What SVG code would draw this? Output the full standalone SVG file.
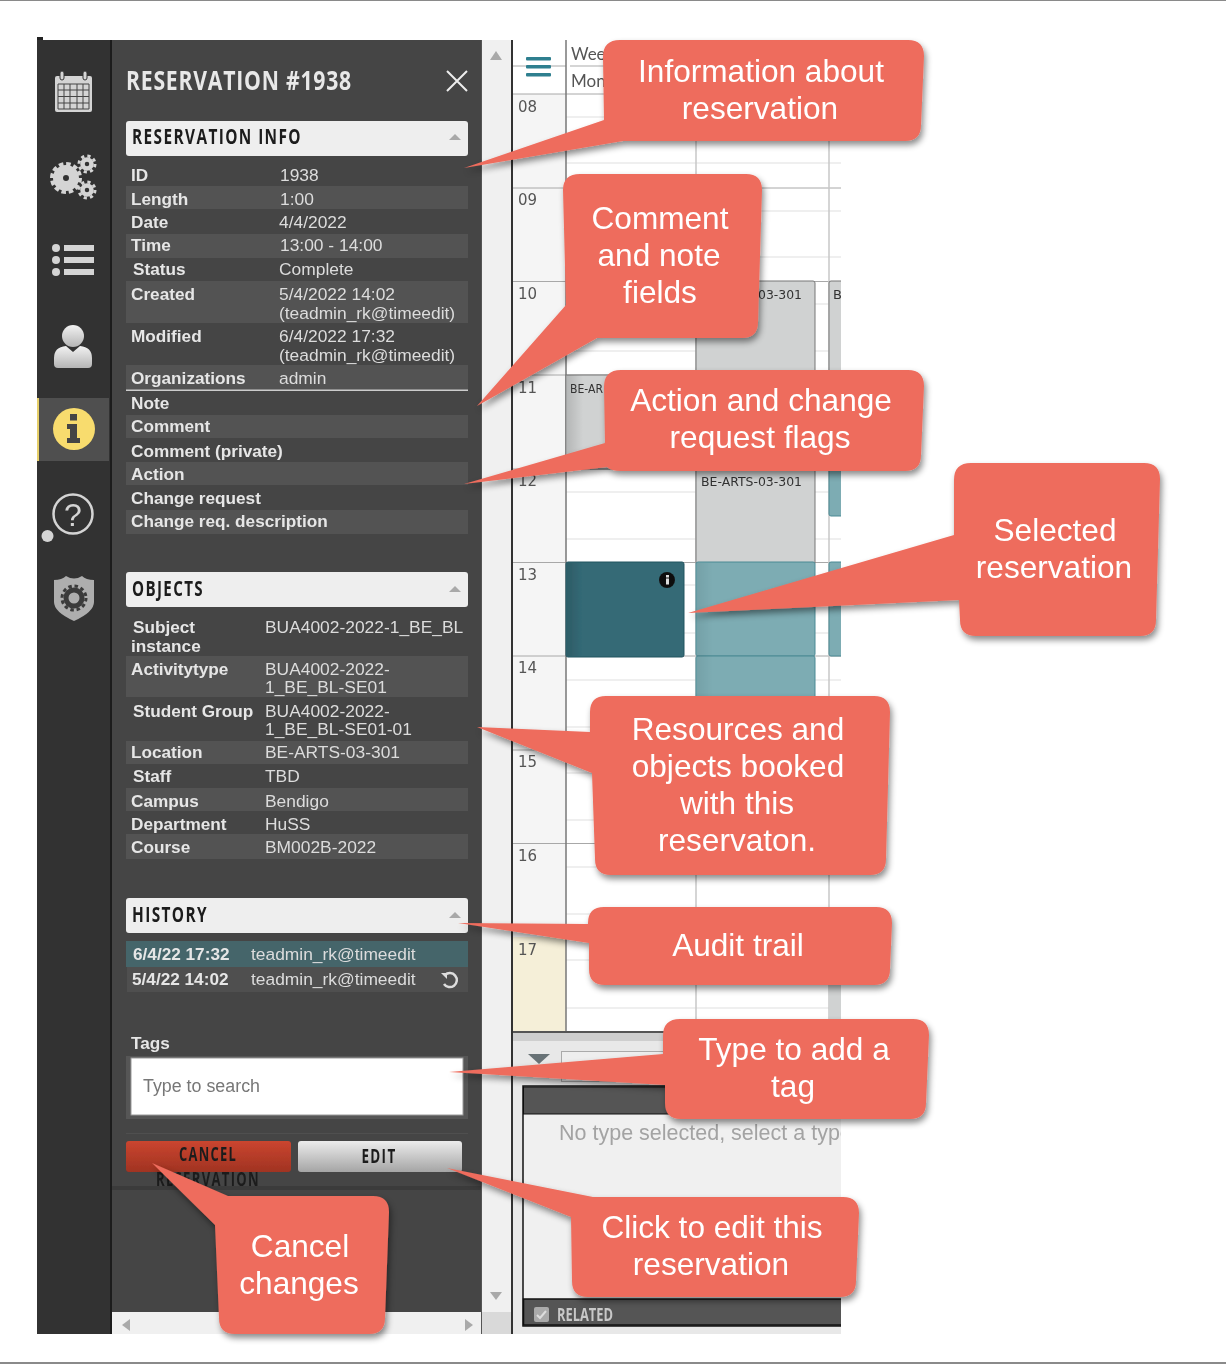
<svg xmlns="http://www.w3.org/2000/svg" width="1226" height="1364" viewBox="0 0 1226 1364">
<style>
.l{font:bold 17.200px "Liberation Sans",Arial,sans-serif;fill:#e6e6e6;transform:translate(0,1px)}
.v{font:17.400px "Liberation Sans",Arial,sans-serif;fill:#dcdcdc;transform:translate(0,1px)}
.h{font:bold 22px "Open Sans",sans-serif;fill:#1c1c1c;letter-spacing:2px}
.c{font:31.600px "Liberation Sans",Arial,sans-serif;fill:#fff;text-anchor:middle;transform:translate(0,.3px)}
.co{fill:#ee6c5d;filter:url(#sh)}
.b{fill:#535353}
.hr{stroke:#a8a8a8;stroke-width:1}
.qt{stroke:#efefef;stroke-width:2}
.ic{fill:#d4d4d4}
.ar{fill:#a9a9a9}
.ev{font:13px 'DejaVu Sans',sans-serif;fill:#333}
.btn{font:bold 20px "Open Sans",sans-serif;fill:#1d1d1d;text-anchor:middle;letter-spacing:2px}
</style>
<defs>
<filter id="sh" x="-10%" y="-10%" width="125%" height="130%"><feDropShadow dx="2" dy="4" stdDeviation="3" flood-color="#000" flood-opacity="0.45"/></filter>
<filter id="soft"><feGaussianBlur stdDeviation="0.35"/></filter>
<linearGradient id="gbtn" x1="0" y1="0" x2="0" y2="1"><stop offset="0" stop-color="#ececec"/><stop offset="1" stop-color="#a5a5a5"/></linearGradient>
<linearGradient id="rbtn" x1="0" y1="0" x2="0" y2="1"><stop offset="0" stop-color="#cb452f"/><stop offset="1" stop-color="#a03322"/></linearGradient>
<linearGradient id="pers" x1="0" y1="0" x2="0" y2="1"><stop offset="0" stop-color="#f2f2f2"/><stop offset="1" stop-color="#b5b5b5"/></linearGradient>
<linearGradient id="edge"><stop offset="0" stop-color="#000" stop-opacity="0.13"/><stop offset="1" stop-color="#000" stop-opacity="0"/></linearGradient>
<clipPath id="cal"><rect x="512" y="40" width="329" height="1294"/></clipPath>
</defs>
<rect width="1226" height="1364" fill="#fff"/>
<rect x="0" y="0" width="1226" height="1" fill="#8a8a8a"/>
<rect x="0" y="1362" width="1226" height="2" fill="#8a8a8a"/>
<g filter="url(#soft)">
<g id="calendar" clip-path="url(#cal)">
<rect x="512" y="40" width="329" height="1294" fill="#fff"/>
<rect x="512" y="94" width="54" height="938" fill="#f5f5f5"/>
<rect x="512" y="937" width="54" height="95" fill="#f5efd8"/>
<g class="qt">
<path d="M566 117H841M566 163H841M566 211H841M566 257H841M566 304H841M566 351H841M566 398H841M566 445H841M566 492H841M566 539H841M566 585H841M566 633H841M566 680H841M566 727H841M566 773H841M566 820H841M566 867H841M566 914H841M566 960H841M566 1008H841"/>
</g>
<path class="hr" d="M512 94H841M512 188H841M512 281.500H841M512 375H841M512 469H841M512 562.500H841M512 656H841M512 750H841M512 843.500H841M512 66H566" fill="none"/>
<path d="M570 66H841M696 94V1032M829 94V1032" stroke="#c8c8c8" stroke-width="1.500" fill="none"/>
<path d="M566 40V1032" stroke="#777" stroke-width="1.500"/>
<rect x="566" y="375" width="118" height="94" fill="#d0d2d2" stroke="#777"/>
<rect x="696" y="281" width="119" height="188" rx="2" fill="#d0d2d2" stroke="#777"/>
<rect x="696" y="469" width="119" height="94" fill="#d0d2d2" stroke="#777"/>
<rect x="829" y="281" width="20" height="188" rx="2" fill="#d0d2d2" stroke="#777"/>
<rect x="829" y="469" width="20" height="47" rx="2" fill="#7dacb3" stroke="#4d8a94"/>
<rect x="829" y="562" width="20" height="94" rx="2" fill="#7dacb3" stroke="#4d8a94"/>
<rect x="829" y="940" width="12" height="92" fill="#d0d2d2"/>
<rect x="566" y="562" width="118" height="95" rx="2" fill="#346a76" stroke="#235560"/>
<rect x="696" y="562" width="119" height="94" rx="2" fill="#7dacb3" stroke="#4d8a94"/>
<rect x="696" y="656" width="119" height="60" rx="2" fill="#7dacb3" stroke="#4d8a94"/>
<rect x="567" y="375" width="16" height="94" fill="url(#edge)"/><rect x="567" y="563" width="16" height="93" fill="url(#edge)"/><rect x="697" y="563" width="16" height="150" fill="url(#edge)" opacity="0.5"/>
<circle cx="667" cy="580" r="8" fill="#111"/>
<rect x="666" y="578.500" width="3" height="6" fill="#ddd"/><rect x="666" y="575" width="3" height="2.500" fill="#ddd"/>
<text class="ev" x="758" y="299" textLength="44" lengthAdjust="spacingAndGlyphs">03-301</text>
<text class="ev" x="701" y="486" textLength="101" lengthAdjust="spacingAndGlyphs">BE-ARTS-03-301</text>
<text class="ev" x="570" y="393" textLength="33" lengthAdjust="spacingAndGlyphs">BE-AR</text>
<text class="ev" x="833" y="299">B</text>
<text x="571" y="60" style="font:17px Lato,sans-serif;fill:#555">Wee</text>
<text x="571" y="87" style="font:17px Lato,sans-serif;fill:#555">Mon</text>
<g style="font:15px 'DejaVu Sans',sans-serif;fill:#555">
<text x="518" y="112">08</text><text x="518" y="205">09</text><text x="518" y="299">10</text><text x="518" y="393">11</text><text x="518" y="486">12</text><text x="518" y="580">13</text><text x="518" y="673">14</text><text x="518" y="767">15</text><text x="518" y="861">16</text><text x="518" y="955">17</text>
</g>
<g fill="#2f7f8f"><rect x="526" y="57" width="25" height="3.500" rx="1"/><rect x="526" y="65" width="25" height="3.500" rx="1"/><rect x="526" y="73" width="25" height="3.500" rx="1"/></g>
<rect x="512" y="1033" width="329" height="301" fill="#e8e8e8"/>
<rect x="512" y="1031" width="329" height="2" fill="#555"/>
<rect x="512" y="1033" width="329" height="8" fill="#bdbdbd" opacity="0.6"/>
<path d="M528 1054H550L539 1064Z" fill="#687276"/>
<rect x="561.500" y="1051.500" width="300" height="30" fill="#eee" stroke="#aaa"/>
<rect x="523" y="1086" width="330" height="240" fill="#f0f0f0" stroke="#111" stroke-width="1.500"/>
<rect x="523.500" y="1087" width="330" height="27" fill="#555" stroke="#111"/>
<rect x="523.500" y="1299" width="330" height="26" fill="#555" stroke="#111" stroke-width="1.500"/>
<text x="559" y="1140" style="font:21.500px 'Liberation Sans',sans-serif;fill:#a3a3a3">No type selected, select a type</text>
<rect x="534" y="1307" width="15" height="15" rx="2" fill="#aaa"/><path d="M537 1315l3 3 6-7" stroke="#ddd" stroke-width="2" fill="none"/>
<text x="557" y="1321" style="font:bold 18px 'Open Sans',sans-serif;fill:#c8c8c8" textLength="56" lengthAdjust="spacingAndGlyphs">RELATED</text>
</g>
<rect x="511" y="40" width="2" height="1294" fill="#333"/>
<g id="panel">
<rect x="37" y="40" width="73" height="1294" fill="#333"/>
<rect x="110" y="40" width="2" height="1294" fill="#1a1a1a"/>
<rect x="112" y="40" width="369" height="1294" fill="#454545"/>
<rect x="482" y="40" width="29" height="1294" fill="#f0f0f0"/>
<rect x="481" y="40" width="1" height="1294" fill="#555"/>
<rect x="112" y="1312" width="369" height="22" fill="#f0f0f0"/>
<rect x="482" y="1312" width="29" height="22" fill="#d9d9d9"/>
<path class="ar" d="M490 60L496 51L502 60Z"/><path class="ar" d="M490 1292H502L496 1300Z"/><path class="ar" d="M130 1319V1331L122 1325Z"/><path class="ar" d="M465 1319V1331L473 1325Z"/>
<rect x="112" y="1186" width="369" height="4" fill="#3a3a3a"/>
<text x="126" y="90" style="font:bold 27px 'Open Sans',sans-serif;fill:#e8e8e8;letter-spacing:1px" textLength="226" lengthAdjust="spacingAndGlyphs">RESERVATION #1938</text>
<path d="M447 71L467 91M467 71L447 91" stroke="#eee" stroke-width="2"/>
<g id="info-section">
<rect x="126" y="121" width="342" height="35" rx="3" fill="#eee"/>
<text class="h" x="132" y="144" textLength="170" lengthAdjust="spacingAndGlyphs">RESERVATION INFO</text>
<path class="ar" d="M449 140H461L455 134Z"/>
<rect class="b" x="126" y="186" width="342" height="23"/><rect class="b" x="126" y="234" width="342" height="24"/><rect class="b" x="126" y="281" width="342" height="42"/><rect class="b" x="126" y="365" width="342" height="25"/><rect x="126" y="389.500" width="342" height="1.500" fill="#ccc"/><rect class="b" x="126" y="415" width="342" height="23"/><rect class="b" x="126" y="462" width="342" height="23"/><rect class="b" x="126" y="510" width="342" height="24"/>
<text class="l" x="131" y="180">ID</text><text class="v" x="280" y="180">1938</text>
<text class="l" x="131" y="204">Length</text><text class="v" x="280" y="204">1:00</text>
<text class="l" x="131" y="227">Date</text><text class="v" x="279" y="227">4/4/2022</text>
<text class="l" x="131" y="250">Time</text><text class="v" x="280" y="250">13:00 - 14:00</text>
<text class="l" x="133" y="274">Status</text><text class="v" x="279" y="274">Complete</text>
<text class="l" x="131" y="299">Created</text><text class="v" x="279" y="299">5/4/2022 14:02</text><text class="v" x="279" y="318">(teadmin_rk@timeedit)</text>
<text class="l" x="131" y="341">Modified</text><text class="v" x="279" y="341">6/4/2022 17:32</text><text class="v" x="279" y="360">(teadmin_rk@timeedit)</text>
<text class="l" x="131" y="383">Organizations</text><text class="v" x="279" y="383">admin</text>
<text class="l" x="131" y="408">Note</text><text class="l" x="131" y="431">Comment</text><text class="l" x="131" y="456">Comment (private)</text><text class="l" x="131" y="479">Action</text><text class="l" x="131" y="503">Change request</text><text class="l" x="131" y="526">Change req. description</text>
</g>
<g id="objects-section">
<rect x="126" y="572" width="342" height="35" rx="3" fill="#eee"/>
<text class="h" x="132" y="596" textLength="72" lengthAdjust="spacingAndGlyphs">OBJECTS</text>
<path class="ar" d="M449 592H461L455 586Z"/>
<rect class="b" x="126" y="656" width="342" height="41"/><rect class="b" x="126" y="741" width="342" height="23"/><rect class="b" x="126" y="788" width="342" height="23"/><rect class="b" x="126" y="834" width="342" height="25"/>
<text class="l" x="133" y="632">Subject</text><text class="l" x="131" y="651">instance</text><text class="v" x="265" y="632">BUA4002-2022-1_BE_BL</text>
<text class="l" x="131" y="674">Activitytype</text><text class="v" x="265" y="674">BUA4002-2022-</text><text class="v" x="265" y="692">1_BE_BL-SE01</text>
<text class="l" x="133" y="716">Student Group</text><text class="v" x="265" y="716">BUA4002-2022-</text><text class="v" x="265" y="734">1_BE_BL-SE01-01</text>
<text class="l" x="131" y="757">Location</text><text class="v" x="265" y="757">BE-ARTS-03-301</text>
<text class="l" x="133" y="781">Staff</text><text class="v" x="265" y="781">TBD</text>
<text class="l" x="131" y="806">Campus</text><text class="v" x="265" y="806">Bendigo</text>
<text class="l" x="131" y="829">Department</text><text class="v" x="265" y="829">HuSS</text>
<text class="l" x="131" y="852">Course</text><text class="v" x="265" y="852">BM002B-2022</text>
</g>
<g id="history-section">
<rect x="126" y="898" width="342" height="35" rx="3" fill="#eee"/>
<text class="h" x="132" y="922" textLength="76" lengthAdjust="spacingAndGlyphs">HISTORY</text>
<path class="ar" d="M449 918H461L455 912Z"/>
<rect x="126" y="941" width="342" height="26" fill="#44656b"/><rect x="127" y="967" width="341" height="25" fill="#4f4f4f"/>
<text class="l" x="133" y="959">6/4/22 17:32</text><text class="v" x="251" y="959">teadmin_rk@timeedit</text>
<text class="l" x="132" y="984">5/4/22 14:02</text><text class="v" x="251" y="984">teadmin_rk@timeedit</text>
<path d="M445 975a7 7 0 1 1-1 9" fill="none" stroke="#ddd" stroke-width="2.500"/><path d="M441 973h6v6z" fill="#ddd"/>
</g>
<g id="tags">
<text class="l" x="131" y="1048">Tags</text>
<rect x="126" y="1056" width="342" height="63" fill="#565656"/>
<rect x="131" y="1058" width="332" height="57" fill="#fff" stroke="#999"/>
<text x="143" y="1092" style="font:18px 'Liberation Sans',sans-serif;fill:#777" textLength="117" lengthAdjust="spacingAndGlyphs">Type to search</text>
<rect x="126" y="1133" width="342" height="1" fill="#505050"/>
</g>
<g id="cancel-button">
<rect x="126" y="1141" width="165" height="31" rx="3" fill="url(#rbtn)"/>
<text class="btn" x="208" y="1161" textLength="58" lengthAdjust="spacingAndGlyphs">CANCEL</text>
<text class="btn" x="208" y="1186" textLength="104" lengthAdjust="spacingAndGlyphs">RESERVATION</text>
</g>
<g id="edit-button">
<rect x="298" y="1141" width="164" height="31" rx="3" fill="url(#gbtn)"/>
<text class="btn" x="379" y="1163" textLength="35" lengthAdjust="spacingAndGlyphs">EDIT</text>
</g>
<g id="nav-icons">
<rect x="37" y="398" width="72" height="63" fill="#4f4f4f"/><rect x="37" y="398" width="2" height="63" fill="#e6cf6a"/>
<g id="icon-calendar"><rect x="55" y="76" width="37" height="36" rx="2" fill="#d4d4d4"/><rect x="60" y="71" width="4" height="9" rx="2" fill="#d4d4d4" stroke="#333"/><rect x="83" y="71" width="4" height="9" rx="2" fill="#d4d4d4" stroke="#333"/><path d="M58 84H89V109H58ZM58 90H89M58 96.500H89M58 103H89M64 84V109M70 84V109M77 84V109M83 84V109" fill="none" stroke="#444"/></g>
<g id="icon-gears" fill="none" stroke="#d4d4d4"><circle cx="66" cy="178" r="8" stroke-width="10"/><circle cx="66" cy="178" r="14" stroke-width="4" stroke-dasharray="4.500 2.800"/><circle cx="87" cy="164" r="4.500" stroke-width="4.500"/><circle cx="87" cy="164" r="8" stroke-width="3" stroke-dasharray="3.200 3.100"/><circle cx="87" cy="190" r="4.500" stroke-width="4.500"/><circle cx="87" cy="190" r="8" stroke-width="3" stroke-dasharray="3.200 3.100"/></g>
<g id="icon-list" class="ic"><circle cx="56" cy="248" r="4"/><circle cx="56" cy="260" r="4"/><circle cx="56" cy="272" r="4"/><rect x="64" y="245" width="30" height="6"/><rect x="64" y="257" width="30" height="6"/><rect x="64" y="269" width="30" height="6"/></g>
<g id="icon-user" fill="url(#pers)"><circle cx="73" cy="336" r="11"/><path d="M54 364V358Q54 347 66 346L73 352L80 346Q92 347 92 358V364Q92 368 88 368H58Q54 368 54 364Z"/></g>
<g id="icon-info"><circle cx="74" cy="429" r="21" fill="#f8dc6e"/><rect x="70" y="414" width="7" height="6.500" fill="#444"/><path d="M67 424H77V438H80V443H67V438H70V429H67Z" fill="#444"/></g>
<g id="icon-help"><circle cx="73" cy="514" r="19.500" fill="none" stroke="#d4d4d4" stroke-width="2.500"/><text x="73" y="526" text-anchor="middle" style="font:32px 'Liberation Sans',sans-serif;fill:#d4d4d4">?</text><circle cx="47.500" cy="536" r="6" fill="#d4d4d4"/></g>
<g id="icon-shield"><path d="M54 580Q62 580 66 576Q74 581 82 576Q86 580 94 580V602Q94 612 74 621Q54 612 54 602Z" fill="#aeaeae"/><circle cx="74" cy="598" r="8" fill="none" stroke="#3a3a3a" stroke-width="5"/><circle cx="74" cy="598" r="12" fill="none" stroke="#3a3a3a" stroke-width="3" stroke-dasharray="3.500 2.800"/></g>
</g>
<rect x="37" y="37" width="6" height="3" fill="#222"/>
</g>
</g>
<g id="callouts">
<g id="callout-info"><path class="co" d="M620 40H908Q924 40 924 56L921 125Q921 141 905 141H623L464 168L604 120L603 57Q603 40 620 40Z"/><text class="c" x="761" y="82">Information about</text><text class="c" x="760" y="119">reservation</text></g>
<g id="callout-comment"><path class="co" d="M580 174H746Q762 174 762 190L758 322Q758 338 742 338H597L477 406L566 305L563 190Q563 174 580 174Z"/><text class="c" x="660" y="229">Comment</text><text class="c" x="659" y="266">and note</text><text class="c" x="660" y="303">fields</text></g>
<g id="callout-action"><path class="co" d="M621 370H908Q924 370 924 386L921 455Q921 471 905 471H621Q611 471 607 467L464 484L605 443L604 387Q604 370 621 370Z"/><text class="c" x="761" y="411">Action and change</text><text class="c" x="760" y="448">request flags</text></g>
<g id="callout-selected"><path class="co" d="M971 463H1144Q1160 463 1160 479L1156 620Q1156 636 1140 636H976Q960 636 960 620L959 600L688 613L954 535L954 480Q954 463 971 463Z"/><text class="c" x="1055" y="541">Selected</text><text class="c" x="1054" y="578">reservation</text></g>
<g id="callout-resources"><path class="co" d="M606 696H874Q890 696 890 712L886 859Q886 875 870 875H611Q595 875 595 859L592 773L477 727L590 732V712Q590 696 606 696Z"/><text class="c" x="738" y="740">Resources and</text><text class="c" x="738" y="777">objects booked</text><text class="c" x="737" y="814">with this</text><text class="c" x="737" y="851">reservaton.</text></g>
<g id="callout-audit"><path class="co" d="M604 907H876Q892 907 892 923L890 969Q890 985 874 985H605Q589 985 589 969V943L458 923L588 924V923Q588 907 604 907Z"/><text class="c" x="738" y="956">Audit trail</text></g>
<g id="callout-tag"><path class="co" d="M680 1019H913Q929 1019 929 1035L926 1103Q926 1119 910 1119H681Q665 1119 665 1103V1085L449 1072L663 1054V1036Q663 1019 680 1019Z"/><text class="c" x="794" y="1060">Type to add a</text><text class="c" x="793" y="1097">tag</text></g>
<g id="callout-edit"><path class="co" d="M593 1197H843Q859 1197 859 1213L856 1281Q856 1297 840 1297H588Q572 1297 572 1281L571 1217L447 1168Z"/><text class="c" x="712" y="1238">Click to edit this</text><text class="c" x="711" y="1275">reservation</text></g>
<g id="callout-cancel"><path class="co" d="M228 1196H373Q389 1196 389 1212L385 1318Q385 1334 369 1334H235Q219 1334 219 1318L215 1225L152 1163Z"/><text class="c" x="300" y="1257">Cancel</text><text class="c" x="299" y="1294">changes</text></g>
</g>
</svg>
